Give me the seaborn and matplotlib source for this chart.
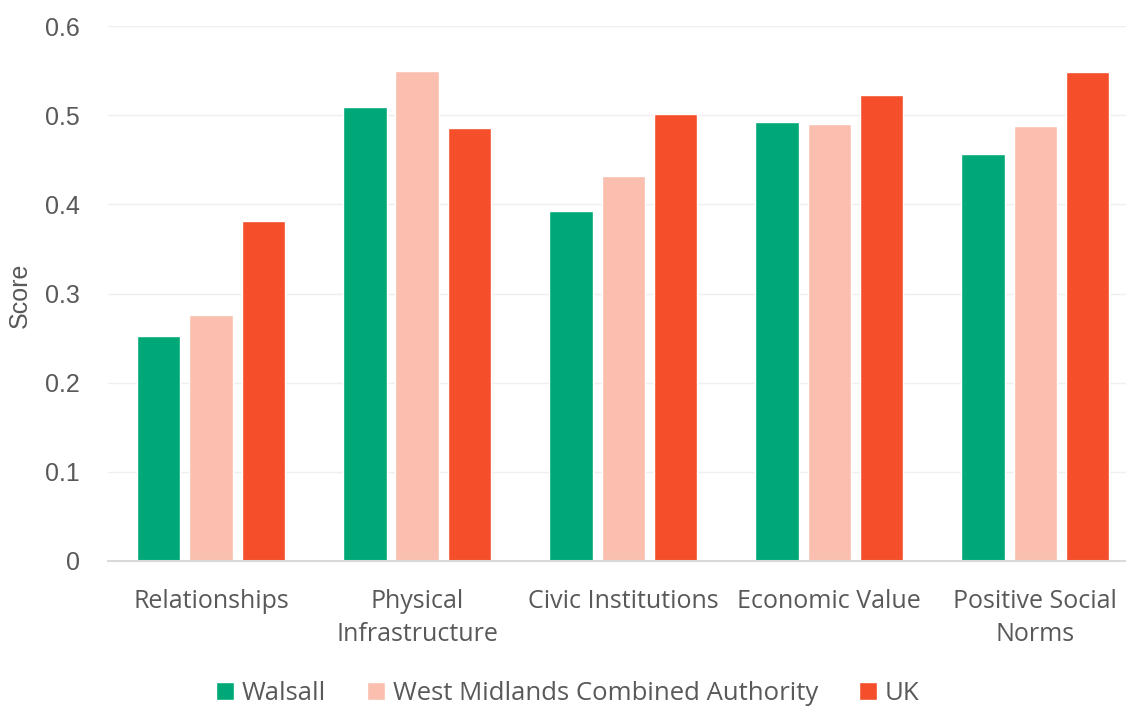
import matplotlib
matplotlib.use("Agg")
import matplotlib.pyplot as plt
import seaborn as sns
import pandas as pd

categories = ["Relationships", "Physical\nInfrastructure", "Civic Institutions",
              "Economic Value", "Positive Social\nNorms"]
walsall = [0.252, 0.509, 0.392, 0.492, 0.457]
wmca = [0.276, 0.550, 0.432, 0.490, 0.488]
uk = [0.381, 0.486, 0.501, 0.523, 0.548]
series_names = ["Walsall", "West Midlands Combined Authority", "UK"]
colors = ["#00A878", "#FBBFB0", "#F44E2B"]
y_ticks = [0, 0.1, 0.2, 0.3, 0.4, 0.5, 0.6]
y_tick_labels = ["0", "0.1", "0.2", "0.3", "0.4", "0.5", "0.6"]

rows = []
for name, vals in zip(series_names, [walsall, wmca, uk]):
    for cat, v in zip(categories, vals):
        rows.append({"Category": cat, "Area": name, "Score": v})
df = pd.DataFrame(rows)

sns.set_theme(style="white")
plt.rcParams["font.family"] = ["Open Sans", "DejaVu Sans"]

fig = plt.figure(figsize=(11.26, 7.06), dpi=100)
ax = fig.add_axes([108 / 1126, 1 - 561 / 706, (1126 - 108) / 1126, (561 - 26) / 706])

sns.barplot(data=df, x="Category", y="Score", hue="Area", order=categories,
            hue_order=series_names, palette=colors, width=0.76, gap=0.17,
            saturation=1, ax=ax, legend=True)

ax.set_ylim(0, 0.6)
ax.set_xlim(-0.5, 4.44)
ax.set_yticks(y_ticks)
ax.set_yticklabels(y_tick_labels, fontfamily="Liberation Sans", fontsize=18, color="#595959")
ax.tick_params(axis="y", length=0, pad=20)
ax.tick_params(axis="x", length=0, pad=20, labelsize=18, labelcolor="#595959")
for lbl in ax.get_xticklabels():
    lbl.set_linespacing(1.45)
ax.yaxis.grid(True, color="#EFEFEF", linewidth=1)
ax.set_axisbelow(True)
for side in ["top", "right", "left"]:
    ax.spines[side].set_visible(False)
ax.spines["bottom"].set_color("#D9D9D9")
ax.spines["bottom"].set_linewidth(1.5)
ax.set_xlabel("")
ax.set_ylabel("Score", fontfamily="Liberation Sans", fontsize=18, color="#595959",
              va="center")
ax.yaxis.set_label_coords(-88 / 1018, 0.497)

handles, labels = ax.get_legend_handles_labels()
ax.legend_.remove()
fig.legend(handles, labels, loc="center", bbox_to_anchor=(568 / 1126, 1 - 693 / 706),
           ncol=3, frameon=False, fontsize=18.5, handlelength=0.7, handleheight=0.7,
           handletextpad=0.3, columnspacing=1.6, labelcolor="#595959")

fig.savefig("out.png", dpi=100)
